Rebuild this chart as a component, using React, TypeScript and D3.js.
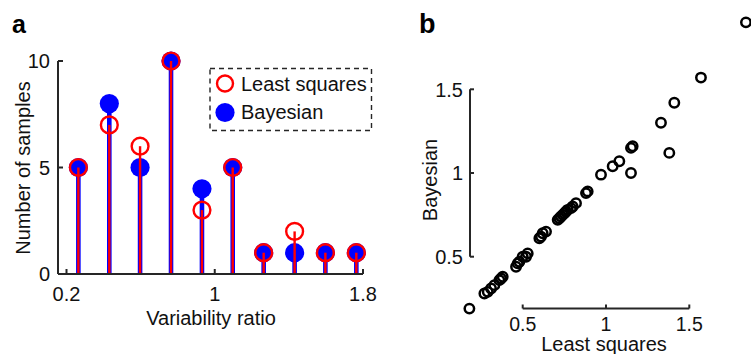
import * as d3 from 'd3';

// panel a: histogram of variability ratio (stem plot)
const binCenters = [0.264, 0.431, 0.597, 0.764, 0.931, 1.097, 1.264, 1.431, 1.597, 1.764];
const leastSquaresCounts = [5, 7, 6, 10, 3, 5, 1, 2, 1, 1];
const bayesianCounts = [5, 8, 5, 10, 4, 5, 1, 1, 1, 1];
const histXTicks = [0.2, 1, 1.8];
const histYTicks = [0, 5, 10];

// panel b: per-sample estimates, least squares vs bayesian
const lsEstimates = [
  0.18, 0.27, 0.29, 0.31, 0.33, 0.36, 0.37, 0.38, 0.46, 0.47, 0.48, 0.5, 0.52, 0.53, 0.6, 0.61, 0.62,
  0.64, 0.71, 0.72, 0.73, 0.74, 0.75, 0.76, 0.77, 0.79, 0.8, 0.82, 0.88, 0.89, 0.97, 1.15, 1.04, 1.08,
  1.15, 1.16, 1.38, 1.33, 1.41, 1.57, 1.84,
];
const bayesEstimates = [
  0.19, 0.28, 0.29, 0.31, 0.33, 0.36, 0.37, 0.38, 0.44, 0.46, 0.47, 0.5, 0.5, 0.52, 0.61, 0.62, 0.64,
  0.65, 0.72, 0.73, 0.74, 0.75, 0.76, 0.77, 0.78, 0.79, 0.8, 0.82, 0.88, 0.89, 0.99, 1.0, 1.04, 1.07,
  1.15, 1.16, 1.12, 1.3, 1.42, 1.57, 1.9,
];
const scatterTicks = [0.5, 1, 1.5];

const FONT = '"Liberation Sans", Arial, sans-serif';
const AXIS = '#262626';
const BLUE = '#0000ff';
const RED = '#ff0000';

const HistPanel = () => {
  const x = d3.scaleLinear().domain([0.2, 1.8]).range([66.5, 363]);
  const y = d3.scaleLinear().domain([0, 10]).range([274, 61]);
  const x0 = 58;

  return (
    <g>
      <text x={12} y={33} fontSize={25} fontWeight="bold" fontFamily={FONT}>
        a
      </text>

      {/* blue stems + markers */}
      {binCenters.map((c, i) => (
        <line key={'bs' + i} x1={x(c)} x2={x(c)} y1={y(0)} y2={y(bayesianCounts[i])} stroke={BLUE} strokeWidth={4.6} />
      ))}
      {binCenters.map((c, i) => (
        <circle key={'bc' + i} cx={x(c)} cy={y(bayesianCounts[i])} r={9.6} fill={BLUE} />
      ))}
      {/* red stems + markers */}
      {binCenters.map((c, i) => (
        <line key={'rs' + i} x1={x(c)} x2={x(c)} y1={y(0)} y2={y(leastSquaresCounts[i])} stroke={RED} strokeWidth={2.4} />
      ))}
      {binCenters.map((c, i) => (
        <circle
          key={'rc' + i}
          cx={x(c)}
          cy={y(leastSquaresCounts[i])}
          r={8.4}
          fill="none"
          stroke={RED}
          strokeWidth={2.4}
        />
      ))}

      {/* y axis */}
      <line x1={x0} x2={x0} y1={y(10)} y2={y(0)} stroke={AXIS} strokeWidth={2} />
      {histYTicks.map((t) => (
        <g key={'yt' + t}>
          <line x1={x0} x2={x0 + 5} y1={y(t)} y2={y(t)} stroke={AXIS} strokeWidth={2} />
          <text x={50} y={y(t)} dy="0.36em" textAnchor="end" fontSize={20} fontFamily={FONT} fill="#111">
            {t}
          </text>
        </g>
      ))}
      {/* x axis */}
      <line x1={x0} x2={x(1.8)} y1={y(0)} y2={y(0)} stroke={AXIS} strokeWidth={2} />
      {histXTicks.map((t) => (
        <g key={'xt' + t}>
          <line x1={x(t)} x2={x(t)} y1={y(0)} y2={y(0) - 5} stroke={AXIS} strokeWidth={2} />
          <text x={x(t)} y={301} textAnchor="middle" fontSize={20} fontFamily={FONT} fill="#111">
            {t}
          </text>
        </g>
      ))}
      <text x={211} y={324.5} textAnchor="middle" fontSize={20} fontFamily={FONT} fill="#111">
        Variability ratio
      </text>
      <text
        transform="translate(30,168) rotate(-90)"
        textAnchor="middle"
        fontSize={20}
        fontFamily={FONT}
        fill="#111"
      >
        Number of samples
      </text>

      {/* legend */}
      <rect x={210} y={68.5} width={161.5} height={62} fill="white" stroke={AXIS} strokeWidth={1.4} strokeDasharray="5,4" />
      <circle cx={225} cy={83.5} r={8} fill="none" stroke={RED} strokeWidth={2.4} />
      <text x={241} y={90.7} fontSize={20} fontFamily={FONT} fill="#111">
        Least squares
      </text>
      <circle cx={225} cy={112.5} r={9.6} fill={BLUE} />
      <text x={241} y={119.3} fontSize={20} fontFamily={FONT} fill="#111">
        Bayesian
      </text>
    </g>
  );
};

const ScatterPanel = () => {
  const x = d3.scaleLinear().domain([0.5, 1.5]).range([522.7, 689.3]);
  const y = d3.scaleLinear().domain([0.5, 1.5]).range([256.7, 89.3]);
  const yAxisX = 470;
  const xAxisY = 308.5;

  return (
    <g>
      <text x={419} y={33} fontSize={27} fontWeight="bold" fontFamily={FONT}>
        b
      </text>

      {/* y axis */}
      <line x1={yAxisX} x2={yAxisX} y1={y(1.5)} y2={y(0.5)} stroke={AXIS} strokeWidth={2} />
      {scatterTicks.map((t) => (
        <g key={'syt' + t}>
          <line x1={yAxisX} x2={yAxisX + 4} y1={y(t)} y2={y(t)} stroke={AXIS} strokeWidth={2} />
          <text x={463} y={y(t)} dy="0.36em" textAnchor="end" fontSize={20} fontFamily={FONT} fill="#111">
            {t}
          </text>
        </g>
      ))}
      {/* x axis */}
      <line x1={x(0.5)} x2={x(1.5)} y1={xAxisY} y2={xAxisY} stroke={AXIS} strokeWidth={2} />
      {scatterTicks.map((t) => (
        <g key={'sxt' + t}>
          <line x1={x(t)} x2={x(t)} y1={xAxisY} y2={xAxisY - 4} stroke={AXIS} strokeWidth={2} />
          <text x={x(t)} y={330.5} textAnchor="middle" fontSize={19.5} fontFamily={FONT} fill="#111">
            {t}
          </text>
        </g>
      ))}
      <text x={604} y={351} textAnchor="middle" fontSize={20} fontFamily={FONT} fill="#111">
        Least squares
      </text>
      <text
        transform="translate(437,180) rotate(-90)"
        textAnchor="middle"
        fontSize={20}
        fontFamily={FONT}
        fill="#111"
      >
        Bayesian
      </text>

      {lsEstimates.map((v, i) => (
        <circle key={'p' + i} cx={x(v)} cy={y(bayesEstimates[i])} r={4.7} fill="none" stroke="#000" strokeWidth={2.5} />
      ))}
    </g>
  );
};

export default function App() {
  return (
    <svg
      width={751}
      height={354}
      style={{ position: 'absolute', left: 0, top: 0, background: 'white' }}
    >
      <rect width={751} height={354} fill="white" />
      <HistPanel />
      <ScatterPanel />
    </svg>
  );
}
